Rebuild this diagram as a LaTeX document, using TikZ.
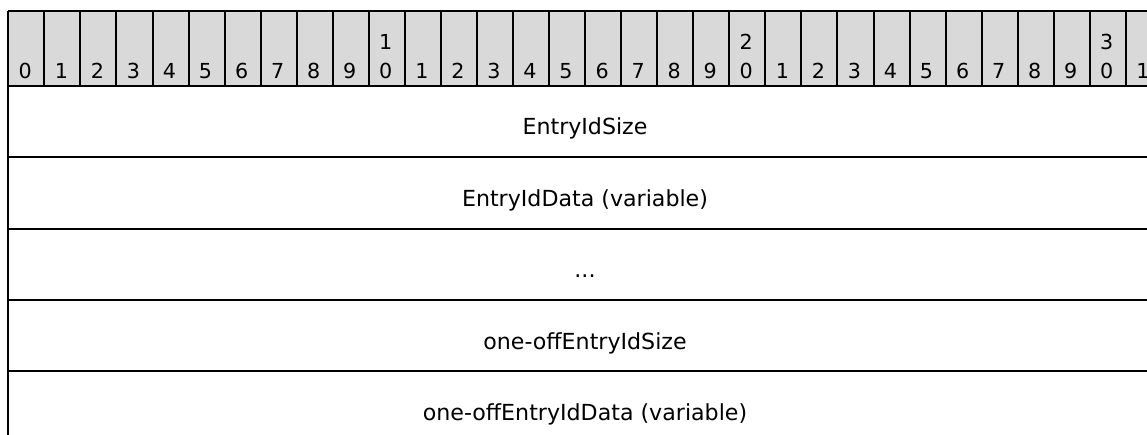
\documentclass[tikz,border=0pt]{standalone}
\usepackage{fontspec}
\setmainfont{DejaVu Sans}
\usetikzlibrary{positioning}

\tikzset{
  bitnum/.style={anchor=base, inner sep=0pt, font=\fontsize{15.5pt}{18pt}\selectfont},
  fieldname/.style={anchor=base, inner sep=0pt, font=\fontsize{16.6pt}{19pt}\selectfont},
  rule/.style={line width=1.5pt}
}

\begin{document}
\begin{tikzpicture}[x=0.75pt,y=-0.75pt]
\useasboundingbox (0,0) rectangle (1147,435);
\clip (0,0) rectangle (1147,435);

% header of bit numbers
\fill[black!15] (8.3,11) rectangle (1162,85.7);
\foreach \i in {0,...,32} {
  \draw[rule] (8.3+36.05*\i,11) -- (8.3+36.05*\i,85.7);
}
\foreach \i in {0,...,31} {
  \pgfmathsetmacro\cx{8.3+36.05*\i+17}
  \pgfmathtruncatemacro\u{mod(\i,10)}
  \pgfmathtruncatemacro\t{div(\i,10)}
  \node[bitnum] (bit\i) at (\cx,79) {\u};
  \ifnum\u=0 \ifnum\i>0
    \node[bitnum] (tens\i) at (\cx,49.3) {\t};
  \fi\fi
}

% rows
\draw[rule] (8.3,11) -- (1162,11);
\foreach \y in {85.7,157.1,228.5,300,371.4} {
  \draw[rule] (8.3,\y) -- (1162,\y);
}
\draw[rule] (8.3,11) -- (8.3,440);

\node[fieldname] (entryIdSize) at (585,135) {EntryIdSize};
\node[fieldname] (entryIdData) at (585,206.4) {EntryIdData (variable)};
\node[fieldname] (more) at (585,277.8) {...};
\node[fieldname] (oneOffSize) at (585,349.3) {one-offEntryIdSize};
\node[fieldname] (oneOffData) at (585,420.7) {one-offEntryIdData (variable)};

\end{tikzpicture}
\end{document}
